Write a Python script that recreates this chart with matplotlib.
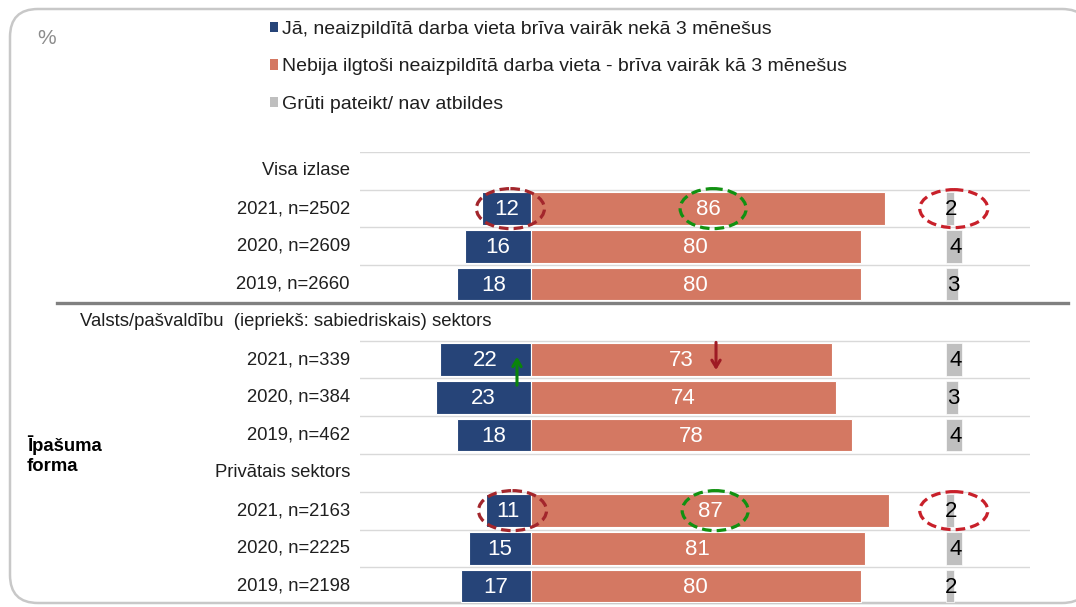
import matplotlib
matplotlib.use("Agg")
import matplotlib.pyplot as plt
from matplotlib.patches import Ellipse, FancyBboxPatch, Patch
from matplotlib.lines import Line2D
import matplotlib.transforms as mtrans

plt.rcParams['font.family'] = ['Liberation Sans', 'DejaVu Sans']

# ---------------- data ----------------
group_titles = ["Visa izlase",
                "Valsts/pašvaldību  (iepriekš: sabiedriskais) sektors",
                "Privātais sektors"]
row_labels = ["2021, n=2502", "2020, n=2609", "2019, n=2660",
              "2021, n=339", "2020, n=384", "2019, n=462",
              "2021, n=2163", "2020, n=2225", "2019, n=2198"]
yes_vals = [12, 16, 18, 22, 23, 18, 11, 15, 17]
no_vals = [86, 80, 80, 73, 74, 78, 87, 81, 80]
hard_vals = [2, 4, 3, 4, 3, 4, 2, 4, 2]
series_names = ["Jā, neaizpildītā darba vieta brīva vairāk nekā 3 mēnešus",
                "Nebija ilgtoši neaizpildītā darba vieta - brīva vairāk kā 3 mēnešus",
                "Grūti pateikt/ nav atbildes"]
side_label = "Īpašuma\nforma"

BLUE = "#264478"
ORANGE = "#D47862"
GRAY = "#BFBFBF"
TXT = "#1F1F1F"
FS = 13.3
LFS = 14.0
VFS = 16.0

W, H = 1076, 607
fig = plt.figure(figsize=(W / 100, H / 100), dpi=100)

# background / pixel overlay axes
bg = fig.add_axes([0, 0, 1, 1], zorder=0)
bg.set_xlim(0, W)
bg.set_ylim(H, 0)
bg.axis("off")
frame = FancyBboxPatch((10, 9), 1080, 594, boxstyle="round,pad=0,rounding_size=28",
                       fc="white", ec="#C8C8C8", lw=1.8)
bg.add_patch(frame)

# main axes
ax = fig.add_axes([360 / W, 1 - 605 / H, (1030 - 360) / W, (605 - 152) / H], zorder=1)
ax.patch.set_alpha(0)
ax.set_xlim(-41.5, 121.1)
ax.set_ylim(12, 0)
ax.axis("off")

# row layout: header rows 0,4,8 ; data rows others
data_rows = [1, 2, 3, 5, 6, 7, 9, 10, 11]
header_rows = [0, 4, 8]
centers = [r + 0.5 for r in data_rows]

for b in range(13):
    if b != 4:
        ax.axhline(b, color="#D9D9D9", lw=1.0, zorder=0)

HARD_START = 100.7
bh = 0.86
ax.barh(centers, [-v for v in yes_vals], height=bh, color=BLUE, edgecolor="white", lw=0.8, zorder=2)
ax.barh(centers, no_vals, height=bh, color=ORANGE, edgecolor="white", lw=0.8, zorder=2)
ax.barh(centers, hard_vals, left=HARD_START, height=bh, color=GRAY, edgecolor="white", lw=0.5, zorder=2)

for c, y, n, h in zip(centers, yes_vals, no_vals, hard_vals):
    ax.text(-y / 2, c + 0.03, str(y), ha="center", va="center", color="white", fontsize=VFS, zorder=3)
    ax.text(n / 2, c + 0.03, str(n), ha="center", va="center", color="white", fontsize=VFS, zorder=3)
    ax.text(HARD_START + h / 2 + 0.3, c + 0.03, str(h), ha="center", va="center", color="black",
            fontsize=VFS, zorder=3)

# category labels
tr = mtrans.blended_transform_factory(fig.transFigure, ax.transData)
for c, lab in zip(centers, row_labels):
    ax.text(350 / W, c, lab, transform=tr, ha="right", va="center", fontsize=FS, color=TXT)
ax.text(350 / W, header_rows[0] + 0.5, group_titles[0], transform=tr, ha="right", va="center",
        fontsize=FS, color=TXT)
ax.text(80 / W, header_rows[1] + 0.5, group_titles[1], transform=tr, ha="left", va="center",
        fontsize=FS, color=TXT)
ax.text(350 / W, header_rows[2] + 0.5, group_titles[2], transform=tr, ha="right", va="center",
        fontsize=FS, color=TXT)

# separator
fig.add_artist(Line2D([57 / W, 1068 / W], [1 - 303 / H, 1 - 303 / H], color="#808080", lw=2.4,
                      transform=fig.transFigure))

# side label and %
bg.text(27, 455, side_label, ha="left", va="center", fontsize=FS, fontweight="bold",
        color="black", linespacing=1.25)
bg.text(47, 39, "%", ha="center", va="center", fontsize=15, color="#8C8C8C")

# legend
handles = [Patch(facecolor=BLUE), Patch(facecolor=ORANGE), Patch(facecolor=GRAY)]
leg = fig.legend(handles, series_names, loc="upper left", bbox_to_anchor=(270 / W, 1 - 21 / H),
                 frameon=False, fontsize=LFS, handlelength=0.42, handleheight=0.42,
                 handletextpad=0.22, labelspacing=1.05, borderaxespad=0, borderpad=0)
for t in leg.get_texts():
    t.set_color(TXT)

# annotations (ellipses and arrows)
PX = 4.12   # px per data unit in x
PY = 37.75  # px per row
DARKRED = "#A3262C"
RED = "#C8202A"
GREEN = "#119111"
for i, r in [(0, 1), (6, 9)]:
    c = r + 0.5
    ax.add_patch(Ellipse((-yes_vals[i] / 2 + 1.0, c), 68 / PX, 40 / PY, fill=False, ec=DARKRED,
                         lw=2.3, ls=(0, (3, 1.6)), zorder=4))
    ax.add_patch(Ellipse((no_vals[i] / 2 + 1.2, c), 66 / PX, 40 / PY, fill=False, ec=GREEN,
                         lw=2.3, ls=(0, (3, 1.6)), zorder=4))
    ax.add_patch(Ellipse((HARD_START + hard_vals[i] / 2 + 0.9, c), 68 / PX, 38 / PY, fill=False,
                         ec=RED, lw=2.3, ls=(0, (3, 1.6)), zorder=4))

ax.annotate("", xy=(-3.4, 5.35), xytext=(-3.4, 6.25),
            arrowprops=dict(arrowstyle="->,head_length=0.5,head_width=0.3", color="#0A840A", lw=2.2),
            zorder=5)
ax.annotate("", xy=(44.9, 5.85), xytext=(44.9, 4.97),
            arrowprops=dict(arrowstyle="->,head_length=0.5,head_width=0.3", color="#9E1B24", lw=2.2),
            zorder=5)

fig.savefig("out.png", dpi=100)
